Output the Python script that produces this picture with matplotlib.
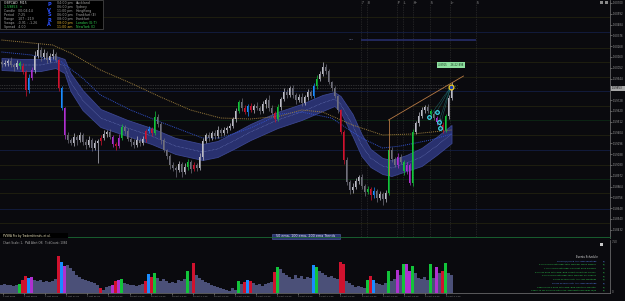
import matplotlib.pyplot as plt
import numpy as np
from matplotlib.patches import Rectangle

# GBPCAD M15, one candle here for roughly two on the screen
close = [
    1.6009, 1.6010, 1.6012, 1.6008, 1.6006, 1.6010, 1.6007, 1.6001, 1.5983, 1.5995,
    1.6003, 1.6017, 1.6023, 1.6016, 1.6020, 1.6013, 1.6017, 1.6019, 1.6013, 1.5985,
    1.5965, 1.5938, 1.5933, 1.5930, 1.5936, 1.5933, 1.5938, 1.5931, 1.5928, 1.5933,
    1.5925, 1.5930, 1.5932, 1.5935, 1.5939, 1.5941, 1.5936, 1.5929, 1.5927, 1.5935,
    1.5946, 1.5942, 1.5934, 1.5931, 1.5928, 1.5933, 1.5930, 1.5934, 1.5942, 1.5944,
    1.5940, 1.5956, 1.5949, 1.5933, 1.5923, 1.5917, 1.5908, 1.5905, 1.5903, 1.5909,
    1.5901, 1.5906, 1.5911, 1.5904, 1.5908, 1.5905, 1.5916, 1.5932, 1.5938, 1.5935,
    1.5940, 1.5937, 1.5943, 1.5940, 1.5943, 1.5945, 1.5947, 1.5954, 1.5962, 1.5971,
    1.5965, 1.5961, 1.5967, 1.5963, 1.5967, 1.5965, 1.5962, 1.5969, 1.5973, 1.5965,
    1.5960, 1.5954, 1.5966, 1.5974, 1.5981, 1.5978, 1.5985, 1.5978, 1.5973, 1.5976,
    1.5970, 1.5976, 1.5981, 1.5977, 1.5987, 1.5994, 1.5999, 1.6006, 1.6002, 1.5991,
    1.5985, 1.5977, 1.5963, 1.5941, 1.5913, 1.5891, 1.5883, 1.5886, 1.5892, 1.5896,
    1.5887, 1.5881, 1.5884, 1.5878, 1.5882, 1.5875, 1.5879, 1.5874, 1.5880, 1.5923,
    1.5914, 1.5908, 1.5916, 1.5911, 1.5902, 1.5908, 1.5890, 1.5941, 1.5950, 1.5957,
    1.5963, 1.5966, 1.5962, 1.5959, 1.5955, 1.5951, 1.5948, 1.5943, 1.5957, 1.5975,
    1.5985,
]
first_open = 1.6011
last_price = 1.59853

# wicks in pips above / below the body
hi_wick = [
    2, 3, 2, 4, 2, 3, 2, 3, 2, 4,
    3, 5, 7, 3, 4, 2, 3, 5, 2, 1,
    2, 1, 3, 2, 4, 2, 3, 2, 3, 4,
    2, 3, 2, 3, 4, 2, 3, 2, 2, 4,
    3, 2, 3, 2, 3, 4, 2, 3, 2, 3,
    2, 6, 3, 2, 2, 1, 2, 3, 2, 3,
    2, 4, 3, 2, 3, 2, 4, 3, 2, 3,
    2, 3, 4, 2, 3, 2, 3, 2, 3, 2,
    4, 3, 2, 3, 2, 4, 2, 3, 2, 5,
    3, 2, 3, 2, 4, 3, 2, 3, 2, 3,
    4, 2, 3, 2, 3, 4, 3, 5, 3, 2,
    1, 2, 1, 1, 2, 3, 2, 4, 3, 2,
    3, 2, 3, 2, 4, 2, 3, 2, 3, 2,
    3, 2, 4, 3, 2, 3, 2, 3, 2, 4,
    3, 2, 3, 2, 3, 2, 4, 3, 2, 3,
    6,
]
lo_wick = [
    3, 2, 3, 2, 4, 2, 3, 2, 6, 3,
    2, 3, 2, 4, 2, 3, 2, 3, 2, 3,
    2, 4, 3, 2, 3, 5, 2, 3, 4, 2,
    3, 2, 20, 4, 2, 3, 2, 3, 4, 2,
    2, 3, 2, 4, 3, 2, 3, 2, 3, 2,
    3, 2, 3, 4, 2, 3, 4, 3, 7, 2,
    5, 2, 3, 4, 2, 3, 2, 3, 2, 3,
    2, 3, 2, 3, 2, 3, 2, 2, 3, 2,
    3, 2, 4, 2, 3, 2, 3, 2, 4, 3,
    2, 3, 2, 3, 2, 3, 2, 3, 4, 2,
    3, 2, 3, 2, 2, 3, 2, 2, 3, 2,
    3, 2, 3, 2, 4, 3, 4, 3, 2, 3,
    3, 4, 2, 5, 3, 4, 2, 6, 3, 2,
    3, 2, 3, 2, 4, 3, 2, 3, 2, 3,
    2, 3, 2, 3, 2, 3, 2, 3, 2, 3,
    2,
]
volume = [
    8, 9, 8, 8, 7, 8, 9, 13, 17, 15,
    16, 13, 12, 13, 11, 12, 11, 12, 14, 37,
    31, 27, 28, 25, 22, 18, 16, 14, 13, 12,
    11, 10, 8, 5, 3, 6, 7, 8, 12, 13,
    14, 10, 9, 8, 8, 7, 8, 9, 12, 19,
    16, 20, 15, 12, 14, 12, 10, 11, 10, 13,
    12, 14, 22, 12, 30, 18, 15, 13, 11, 10,
    8, 7, 6, 5, 4, 3, 2, 5, 3, 12,
    9, 11, 13, 12, 10, 8, 9, 7, 9, 10,
    11, 21, 26, 24, 20, 18, 16, 14, 18, 15,
    17, 14, 16, 15, 28, 26, 22, 20, 18, 16,
    17, 15, 14, 31, 29, 12, 10, 8, 6, 7,
    6, 5, 13, 17, 13, 10, 9, 8, 10, 22,
    12, 14, 23, 18, 29, 29, 22, 27, 20, 15,
    14, 16, 13, 29, 15, 26, 20, 22, 30, 20,
    18,
]

# PVSRA candle classes (candle index)
climax_up = [6, 40, 51, 62, 79, 92, 105, 122, 129, 134, 137, 143, 148]
climax_dn = [7, 8, 19, 33, 38, 48, 50, 64, 81, 83, 91, 113, 114, 123, 147]
rising_up = [9, 20, 49, 82, 104, 124]
rising_dn = [10, 21, 37, 39, 132, 135, 136, 145]

# 50 ema ribbon, 100 ema, 200 ema
band_idx = [0, 7, 13, 18, 21, 23, 27, 33, 42, 50, 58, 67, 72, 78, 83, 92, 100, 107, 111, 113,
            117, 120, 123, 127, 130, 135, 140, 145, 150]
band_mid = [1.6009, 1.6008, 1.6008, 1.6011, 1.6007, 1.5991, 1.5973, 1.5955, 1.5945, 1.5937,
            1.5927, 1.5921, 1.5924, 1.5933, 1.5941, 1.5953, 1.5961, 1.5970, 1.5974, 1.5969,
            1.5948, 1.5928, 1.5915, 1.5907, 1.5905, 1.5910, 1.5916, 1.5927, 1.5939]
band_half = [6, 6, 6, 6, 7, 9, 10, 9, 8, 8, 8, 8, 8, 8, 8, 8, 8, 8, 7, 8,
             11, 11, 9, 8, 8, 8, 9, 9, 9]
ma100_idx = [0, 10, 20, 27, 33, 43, 53, 60, 67, 73, 83, 93, 100, 110, 120, 127, 133, 143, 150]
ma100 = [1.6021, 1.6018, 1.6011, 1.5995, 1.5978, 1.5963, 1.5951, 1.5943, 1.5935, 1.5935,
         1.5945, 1.5959, 1.5961, 1.5955, 1.5935, 1.5925, 1.5927, 1.5933, 1.5939]
ma200_idx = [0, 17, 23, 33, 43, 53, 63, 73, 83, 93, 100, 107, 117, 127, 137, 150]
ma200 = [1.6033, 1.6028, 1.6020, 1.6003, 1.5990, 1.5976, 1.5963, 1.5955, 1.5954, 1.5957,
         1.5963, 1.5961, 1.5948, 1.5938, 1.5939, 1.5943]

pivots = [1.5988, 1.5985]
grid_levels = [1.6056, 1.6041, 1.6025, 1.6011, 1.5996, 1.5982, 1.5967, 1.5953, 1.5938,
               1.5923, 1.5908, 1.5894, 1.5880, 1.5864, 1.5850]
grid_kind = ['o', 'b', 'o', 'o', 'o', 'b', 'o', 'g', 'o', 'b', 'o', 'g', 'o', 'b', 'o']

session_idx = [119.8, 121.8, 131.8, 133.8, 137.2, 142.8, 149.5, 158.2]
session_lbl = ['7', '8', 'P', 'L', 'H~', 'S', 'L~', 'S']

fan_x = [142.6, 145.0, 145.7, 146.0]
fan_y = [1.5956, 1.5961, 1.5951, 1.5945]
apex = (149.7, 1.5986)
trend_x = [129, 154]
trend_y = [1.5953, 1.5997]

time_labels = ['7 Oct 2022', '7 Oct 09:00', '7 Oct 13:00', '7 Oct 17:00', '7 Oct 21:00',
               '10 Oct 01:00', '10 Oct 05:00', '10 Oct 09:00', '10 Oct 13:00', '10 Oct 17:00',
               '10 Oct 21:00', '11 Oct 01:00', '11 Oct 05:00', '11 Oct 09:00', '11 Oct 13:00',
               '11 Oct 17:00', '11 Oct 21:00', '12 Oct 01:00', '12 Oct 05:00', '12 Oct 09:00',
               '12 Oct 13:00', '12 Oct 17:00']

events = [
    ('40 min(s) since ALL: ISDS Meetings', '(F)', 'b'),
    ('6 hrs 5 mins until GBP: MPC Member Mann Speaks', '(E)', 'g'),
    ('7 hrs 1 mins until GBP: PPI Input Price Balance', '(E)', 'g'),
    ('8 hrs 35 mins until GBP: BOE Credit Conditions Survey', '(E)', 'g'),
    ('9 hrs 5 mins until GBP: MPC Member Pill Speaks', '(E)', 'g'),
    ('12 hrs 20 mins until ALL: IMF Meetings', '(F)', 'g'),
    ('15 hrs 20 mins until ALL: ISDS Meetings', '(F)', 'b'),
    ('1days 8 hrs 5 mins until GBP: BOE Quarterly Bulletin', '(E)', 'g'),
    ('1days 13 hrs 20 mins until CAD: Manufacturing Sales m/m', '(E)', 'g'),
]

W, H = 625, 301
BG = '#0a0a0e'
C_UP, C_DN = '#12c43a', '#d0122e'
C_RUP, C_RDN = '#1a8cff', '#b030d0'

fig = plt.figure(figsize=(W / 100, H / 100), dpi=100, facecolor=BG)
ax = fig.add_axes([0, 1 - 238 / H, 610 / W, 238 / H], facecolor=BG)
axv = fig.add_axes([0, 8 / H, 610 / W, 53 / H], facecolor=BG)

c = np.array(close)
o = np.r_[first_open, c[:-1]]
n = len(c)
idx = np.arange(n)
hi = np.maximum(o, c) + np.array(hi_wick) / 10000
lo = np.minimum(o, c) - np.array(lo_wick) / 10000

cols = np.where(c >= o, '#bcbcc6', '#70707c').astype(object)
vcols = np.array(['#4b5078'] * n, dtype=object)
for lst, col in [(climax_up, C_UP), (climax_dn, C_DN), (rising_up, C_RUP), (rising_dn, C_RDN)]:
    cols[lst] = col
    vcols[lst] = col

# main panel
gcol = {'o': '#1e1e10', 'b': '#121b3c', 'g': '#0c2414'}
for lev, k in zip(grid_levels, grid_kind):
    ax.axhline(lev, color=gcol[k], lw=0.7, zorder=0)
for p in pivots:
    ax.axhline(p, xmax=(152 + 0.5) / 203.3, color='#555555', lw=0.5, ls=(0, (1, 1.5)), zorder=1)
for sx in session_idx:
    ax.axvline(sx, color='#383838', lw=0.5, ls=(0, (1, 1.5)), zorder=1)
ax.hlines(1.6033, session_idx[0], session_idx[-1], color='#262e6a', lw=1.2, zorder=1)
ax.text(116.5, 1.6033, '0.84', color='#8088b0', fontsize=1.6, va='center', ha='center')

bm = np.array(band_mid)
bh = np.array(band_half) / 10000
ax.fill_between(band_idx, bm - bh, bm + bh, color='#29316f', edgecolor='#3b4690', lw=0.6, zorder=2)
ax.plot(band_idx, bm, color='#8290d4', lw=0.4, ls=(0, (1, 1.5)), zorder=2)
ax.plot(ma100_idx, ma100, color='#3050c8', lw=0.7, ls=(0, (1, 1)), zorder=2)
ax.plot(ma200_idx, ma200, color='#9a7c3c', lw=0.7, ls=(0, (1, 1)), zorder=2)

ax.vlines(idx, lo, hi, colors=list(cols), lw=0.5, zorder=3)
ax.bar(idx, np.maximum(np.abs(c - o), 0.00004), bottom=np.minimum(o, c), width=0.6,
       color=list(cols), lw=0, zorder=3)

ax.plot(trend_x, trend_y, color='#b87a44', lw=0.6, zorder=4)
ax.plot([trend_x[0], trend_x[0]], [trend_y[0], 1.5898], color='#b87a44', lw=0.6, zorder=4)
for fx, fy in zip(fan_x, fan_y):
    ax.plot([fx, apex[0]], [fy, apex[1]], color='#2aa8a8', lw=0.4, ls=(0, (1, 1)), zorder=4)
ax.scatter(fan_x, fan_y, s=7, facecolors='#10283a', edgecolors='#40e0f0', lw=0.8, zorder=5)
ax.scatter([apex[0]], [apex[1]], s=12, facecolors='#1838b0', edgecolors='#f0d020', lw=0.9, zorder=5)
ax.text(apex[0] + 1.3, apex[1], '1', color='#40d060', fontsize=1.6, va='center', zorder=5)
ax.text(149.7, 1.6008, '4.8915     26:22:898', color='#103018', fontsize=1.8, ha='center',
        va='center', zorder=6,
        bbox=dict(boxstyle='square,pad=0.5', fc='#8ee0a0', ec='#8ee0a0', lw=0))

ax.set_xlim(-0.5, 202.83)
ax.set_ylim(1.5835, 1.6073)
ax.yaxis.tick_right()
yt = 1.6070 - 0.00108 * np.arange(22)
yt = yt[np.abs(yt - last_price) > 0.0005]
ax.set_yticks(yt)
ax.set_yticklabels(['%.5f' % t for t in yt])
ax.tick_params(axis='y', colors='#9a9a9a', labelsize=1.9, length=1.5, width=0.4, pad=0.6)
ax.set_xticks([])
for s in ['top', 'left', 'bottom']:
    ax.spines[s].set_visible(False)
ax.spines['right'].set_color('#7a7a7a')
ax.spines['right'].set_linewidth(0.5)

# volume panel
axv.bar(idx, volume, width=0.7, color=list(vcols), lw=0)
axv.set_xlim(-0.5, 202.83)
axv.set_ylim(0, 53)
tpos = 0.5 + 7.03 * np.arange(len(time_labels))
axv.set_xticks(tpos)
axv.set_xticklabels(time_labels, ha='left')
axv.tick_params(axis='x', colors='#9a9a9a', labelsize=1.6, length=1.5, width=0.4, pad=0.6)
axv.set_yticks([])
for s in ['top', 'left']:
    axv.spines[s].set_visible(False)
for s in ['right', 'bottom']:
    axv.spines[s].set_color('#7a7a7a')
    axv.spines[s].set_linewidth(0.5)

# overlay in pixel coordinates for the indicator text
ov = fig.add_axes([0, 0, 1, 1], facecolor='none')
ov.set_xlim(0, W)
ov.set_ylim(H, 0)
ov.axis('off')

ov.add_patch(Rectangle((0, 0), 103, 29, fc='#000000', ec='#505050', lw=0.5))
info = [('GBPCAD  M15', '#e0e0e0'), ('1.59853  \u2191', '#30d050'), ('Candle   00:04:14', '#a0a0a0'),
        ('Period    7:25', '#a0a0a0'), ('Range    107 : 219', '#a0a0a0'),
        ('Swaps   -0.91 : -1.26', '#a0a0a0'), ('Spread   4.00', '#a0a0a0')]
for k, (t, col) in enumerate(info):
    ov.text(4, 3 + 4 * k, t, color=col, fontsize=2.3, va='center')
for k, ch in enumerate('PVSRA'):
    ov.text(49, 5 + 5 * k, ch, color='#2a50ff', fontsize=3.6, fontweight='bold', ha='center', va='center')
sess = [('04:00 pm', 'Auckland', '#a0a0a0', '#a0a0a0'), ('06:00 pm', 'Sydney', '#a0a0a0', '#a0a0a0'),
        ('11:00 pm', 'HongKong', '#a0a0a0', '#a0a0a0'), ('06:00 pm', 'Frankfurt (E)', '#a0a0a0', '#a0a0a0'),
        ('08:00 pm', 'Frankfurt', '#a0a0a0', '#a0a0a0'), ('08:00 pm', 'London (G:T)', '#e0b030', '#30d050'),
        ('11:00 am', 'NewYork (C)', '#e0b030', '#30d050')]
for k, (tm, nm, c1, c2) in enumerate(sess):
    ov.text(57, 3 + 4 * k, tm, color=c1, fontsize=2.3, va='center')
    ov.text(76, 3 + 4 * k, nm, color=c2, fontsize=2.3, va='center')

for sx, lb in zip(session_idx, session_lbl):
    ov.text((sx + 0.5) * 3 + 1, 3, lb, color='#a8a8a8', fontsize=2.0, va='center')
ov.add_patch(Rectangle((600, 1), 3, 3, fc='#8a8a8a', lw=0))
ov.add_patch(Rectangle((605, 1), 3, 3, fc='#8a8a8a', lw=0))

# current price tag
ov.add_patch(Rectangle((611, 85.5), 14, 5, fc='#a8a8a8', lw=0))
ov.text(612, 88, '%.5f' % last_price, color='#101010', fontsize=1.9, va='center')

ov.add_patch(Rectangle((0, 233), 68, 5, fc='#000000', lw=0))
ov.text(3, 235.5, 'PVSRA Pro by Tradersfriends, et al.', color='#e8e0b8', fontsize=2.0, va='center')
ov.plot([68, 610], [237.3, 237.3], color='#1a6a34', lw=0.6)
ov.add_patch(Rectangle((272, 233.8), 68, 5.2, fc='#2a3470', ec='#5563a8', lw=0.4))
ov.text(306, 236.4, '50 ema, 100 ema, 200 ema Trends', color='#e8e8f0', fontsize=2.4,
        ha='center', va='center')
ov.text(3, 243, 'Chart Scale: 1,  PVA Alert Off,  TickCount: 1084', color='#a8a8a8',
        fontsize=2.0, va='center')
ov.text(612, 242, '7.50', color='#9a9a9a', fontsize=1.9, va='center')
ov.text(612, 292, '0', color='#9a9a9a', fontsize=1.9, va='center')
ov.add_patch(Rectangle((600, 243), 3, 3, fc='#c8c8c8', lw=0))

ov.text(598, 256.5, 'Events Schedule', color='#e0e0e0', fontsize=1.9, ha='right', va='center')
ecol = {'b': '#5a8cff', 'g': '#30d050'}
for k, (t, tag, kind) in enumerate(events):
    y = 261 + 3.7 * k
    ov.text(596, y, t, color=ecol[kind], fontsize=1.6, ha='right', va='center')
    ov.text(603, y, tag, color=ecol[kind], fontsize=1.6, va='center')

fig.savefig('out.png', dpi=100, facecolor=BG)
